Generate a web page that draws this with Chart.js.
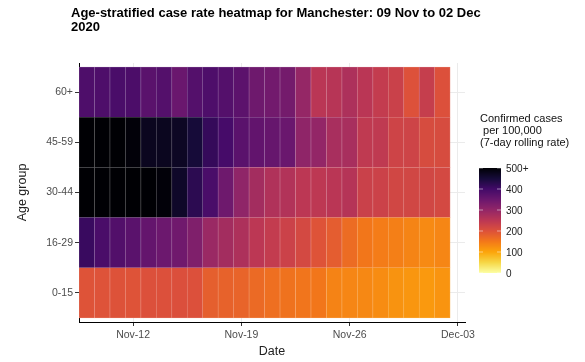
<!DOCTYPE html>
<html>
<head>
<meta charset="utf-8">
<script src="https://cdn.jsdelivr.net/npm/chart.js@4"></script>
<style>
  html, body { margin: 0; padding: 0; background: #fff; }
  #wrap { width: 585px; height: 362px; }
</style>
</head>
<body>
<div id="wrap"><canvas id="myChart" width="585" height="362"></canvas></div>
<script>
const dates = ['2020-11-09','2020-11-10','2020-11-11','2020-11-12','2020-11-13','2020-11-14',
  '2020-11-15','2020-11-16','2020-11-17','2020-11-18','2020-11-19','2020-11-20',
  '2020-11-21','2020-11-22','2020-11-23','2020-11-24','2020-11-25','2020-11-26',
  '2020-11-27','2020-11-28','2020-11-29','2020-11-30','2020-12-01','2020-12-02']
const ageGroups = ['0-15', '16-29', '30-44', '45-59', '60+']
const rate0to15 = [197,198,199,197,201,201,203,201,182,178,176,168,162,158,154,152,138,135,132,128,120,117,113,119]
const rate16to29 = [410,390,380,370,357,348,343,325,292,280,268,250,240,228,215,197,185,165,152,145,142,137,130,135]
const rate30to44 = [520,520,520,520,520,495,465,425,390,345,305,280,265,262,250,248,252,258,230,228,220,220,220,215]
const rate45to59 = [520,520,520,495,475,475,470,450,415,395,370,360,355,350,305,300,275,275,245,245,225,225,210,210]
const rate60plus = [385,385,390,388,370,378,350,378,385,378,368,345,340,338,298,252,256,268,252,240,230,200,236,202]
const tickDates = ['2020-11-12', '2020-11-19', '2020-11-26', '2020-12-03']
const tickLabels = ['Nov-12', 'Nov-19', 'Nov-26', 'Dec-03']
const legendTicks = [0, 100, 200, 300, 400, 500]
const legendLabels = ['0', '100', '200', '300', '400', '500+']
const rateMax = 500

const rows = [rate0to15, rate16to29, rate30to44, rate45to59, rate60plus]

// inferno palette, dark end = high rate
const inferno = ['#000004','#160b39','#420a68','#6a176e','#932667','#bc3754',
  '#dd513a','#f37819','#fca50a','#f6d746','#fcffa4']

function hexRgb(h) {
  return [parseInt(h.slice(1,3),16), parseInt(h.slice(3,5),16), parseInt(h.slice(5,7),16)]
}
function rateRgb(v) {
  let t = 1 - Math.min(v, rateMax) / rateMax
  t = Math.max(0, Math.min(1, t)) * (inferno.length - 1)
  const i = Math.min(Math.floor(t), inferno.length - 2)
  const f = t - i
  const a = hexRgb(inferno[i]), b = hexRgb(inferno[i + 1])
  return a.map((c, k) => Math.round(c + (b[k] - c) * f))
}
function rgbStr(c) { return 'rgb(' + c.join(',') + ')' }
function lighter(c, m) { return rgbStr(c.map(x => Math.round(x + (255 - x) * m))) }

const dayMs = 86400000
function dayIndex(d) { return Math.round((Date.parse(d) - Date.parse(dates[0])) / dayMs) }
const tickPos = tickDates.map(dayIndex)

const font = '"Liberation Sans", Arial, sans-serif'

const datasets = rows.map((vals, k) => ({
  label: ageGroups[k],
  data: vals.map((v, i) => ({ x: dayIndex(dates[i]), y: [k - 0.5, k + 0.5] })),
  backgroundColor: vals.map(v => rgbStr(rateRgb(v))),
  borderColor: vals.map(v => lighter(rateRgb(v), 0.35)),
  borderWidth: 0.6,
  borderSkipped: false,
  grouped: false,
  barPercentage: 1,
  categoryPercentage: 1
}))

const extras = {
  id: 'extras',
  afterDraw(chart) {
    const ctx = chart.ctx
    ctx.save()
    // title
    ctx.fillStyle = '#000'
    ctx.font = 'bold 13px ' + font
    ctx.textAlign = 'left'
    ctx.textBaseline = 'alphabetic'
    ctx.fillText('Age-stratified case rate heatmap for Manchester: 09 Nov to 02 Dec', 71, 17)
    ctx.fillText('2020', 71, 31)

    // legend title
    ctx.font = '11px ' + font
    ctx.fillStyle = '#111'
    ctx.fillText('Confirmed cases', 480, 122)
    ctx.fillText(' per 100,000', 480, 134)
    ctx.fillText('(7-day rolling rate)', 480, 146)

    // colour bar
    const bx = 479, bw = 22, top = 168, bottom = 273
    const h = bottom - top
    for (let y = 0; y < h; y++) {
      const v = rateMax * (1 - (y + 0.5) / h)
      ctx.fillStyle = rgbStr(rateRgb(v))
      ctx.fillRect(bx, top + y, bw, 1)
    }
    ctx.font = '10px ' + font
    ctx.textBaseline = 'middle'
    legendTicks.forEach((v, i) => {
      const y = bottom - v / rateMax * h
      ctx.strokeStyle = 'rgba(255,255,255,0.7)'
      ctx.lineWidth = 0.7
      ctx.beginPath()
      ctx.moveTo(bx, y); ctx.lineTo(bx + 4, y)
      ctx.moveTo(bx + bw - 4, y); ctx.lineTo(bx + bw, y)
      ctx.stroke()
      ctx.fillStyle = '#222'
      ctx.fillText(legendLabels[i], bx + bw + 5, y + 1)
    })
    ctx.restore()
  }
}

new Chart('myChart', {
  type: 'bar',
  data: { datasets: datasets },
  options: {
    responsive: false,
    animation: false,
    layout: { padding: { left: 0, right: 120, top: 63, bottom: 0 } },
    plugins: {
      legend: { display: false },
      tooltip: { enabled: false }
    },
    scales: {
      x: {
        type: 'linear',
        min: -0.5,
        max: 24.46,
        offset: false,
        afterFit(s) { s.height = 40 },
        afterBuildTicks(s) { s.ticks = tickPos.map(v => ({ value: v })) },
        ticks: {
          autoSkip: false,
          maxRotation: 0,
          padding: 3,
          color: '#4d4d4d',
          font: { family: font, size: 10.5 },
          callback: (v) => tickLabels[tickPos.indexOf(v)]
        },
        grid: { offset: false, color: '#ebebeb', tickColor: '#333', tickLength: 4 },
        border: { display: true, color: '#000', width: 1 },
        title: {
          display: true, text: 'Date', color: '#222',
          font: { family: font, size: 12.5 },
          padding: { top: 0, bottom: 2.5 }
        }
      },
      y: {
        type: 'linear',
        min: -0.58,
        max: 4.58,
        afterFit(s) { s.width = 79 },
        afterBuildTicks(s) { s.ticks = ageGroups.map((g, i) => ({ value: i })) },
        ticks: {
          padding: 2,
          color: '#4d4d4d',
          font: { family: font, size: 10.5 },
          callback: (v) => ageGroups[v]
        },
        grid: { color: '#ebebeb', tickColor: '#333', tickLength: 4 },
        border: { display: true, color: '#000', width: 1 },
        title: {
          display: true, text: 'Age group', color: '#222',
          font: { family: font, size: 12.5 },
          padding: { top: 15, bottom: 0 }
        }
      }
    }
  },
  plugins: [extras]
})
</script>
</body>
</html>
